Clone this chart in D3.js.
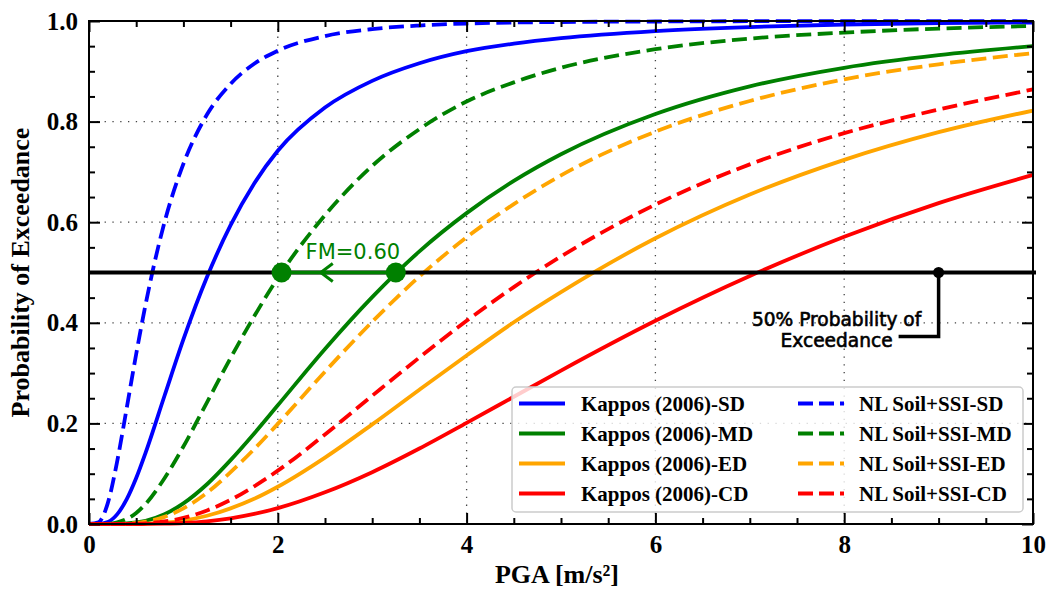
<!DOCTYPE html>
<html>
<head>
<meta charset="utf-8">
<script src="https://cdn.jsdelivr.net/npm/d3@7"></script>
<style>
  body { margin: 0; background: #fff; }
  svg { display: block; }
</style>
</head>
<body>
<svg id="chart"></svg>
<script>
// PGA sample points [m/s²] shared by every curve
const pga = [0, 0.1, 0.2, 0.3, 0.4, 0.5, 0.6, 0.8, 1.0, 1.25, 1.5, 1.75, 2.0, 2.5, 3.0, 3.5, 4.0, 4.5, 5.0, 6.0, 7.0, 8.0, 9.0, 10.0];

// Probability of exceedance
const kapposSD = [0, 0.0001, 0.0041, 0.0196, 0.0495, 0.0915, 0.142, 0.255, 0.367, 0.491, 0.594, 0.677, 0.742, 0.828, 0.881, 0.916, 0.940, 0.955, 0.966, 0.980, 0.988, 0.993, 0.996, 0.997];
const kapposMD = [0, 0, 0, 0.0002, 0.001, 0.003, 0.0064, 0.0194, 0.041, 0.079, 0.127, 0.180, 0.236, 0.348, 0.451, 0.542, 0.618, 0.682, 0.735, 0.815, 0.870, 0.907, 0.932, 0.950];
const kapposED = [0, 0, 0, 0, 0.0001, 0.0003, 0.0007, 0.0026, 0.0069, 0.0164, 0.031, 0.050, 0.074, 0.132, 0.198, 0.267, 0.335, 0.401, 0.461, 0.568, 0.655, 0.724, 0.779, 0.822];
const kapposCD = [0, 0, 0, 0, 0, 0, 0.0001, 0.0007, 0.002, 0.0054, 0.0112, 0.020, 0.0315, 0.063, 0.103, 0.150, 0.201, 0.253, 0.305, 0.404, 0.493, 0.571, 0.638, 0.694];
const nlSD = [0, 0.0033, 0.042, 0.126, 0.231, 0.338, 0.437, 0.600, 0.716, 0.814, 0.875, 0.915, 0.941, 0.970, 0.984, 0.991, 0.995, 0.997, 0.998, 0.999, 0.9996, 0.9998, 0.9999, 0.9999];
const nlMD = [0, 0, 0.0005, 0.0031, 0.010, 0.022, 0.040, 0.091, 0.154, 0.242, 0.330, 0.413, 0.489, 0.614, 0.712, 0.785, 0.840, 0.878, 0.907, 0.944, 0.965, 0.977, 0.985, 0.990];
const nlED = [0, 0, 0, 0.0001, 0.0007, 0.002, 0.0045, 0.0142, 0.031, 0.062, 0.103, 0.149, 0.199, 0.303, 0.402, 0.492, 0.570, 0.636, 0.693, 0.780, 0.841, 0.884, 0.914, 0.936];
const nlCD = [0, 0, 0, 0, 0, 0.0006, 0.0014, 0.005, 0.012, 0.027, 0.048, 0.075, 0.106, 0.178, 0.255, 0.331, 0.404, 0.471, 0.532, 0.635, 0.715, 0.777, 0.824, 0.864];

const kapposLabels = ["Kappos (2006)-SD", "Kappos (2006)-MD", "Kappos (2006)-ED", "Kappos (2006)-CD"];
const nlLabels = ["NL Soil+SSI-SD", "NL Soil+SSI-MD", "NL Soil+SSI-ED", "NL Soil+SSI-CD"];
const stateColors = ["#0000ff", "#008000", "#ffa500", "#ff0000"];

const xTicks = [0, 2, 4, 6, 8, 10];
const yTicks = [0, 0.2, 0.4, 0.6, 0.8, 1.0];

// annotations
const fmFrom = 3.25;   // Kappos MD median
const fmTo = 2.04;     // NL Soil+SSI MD median
const fmText = "FM=0.60";
const halfLevel = 0.5;
const halfMarkerX = 9;
const halfText = ["50% Probability of", "Exceedance"];

const width = 1051;
const height = 595;
const margin = { top: 21, right: 18, bottom: 71, left: 89 };
const innerW = width - margin.left - margin.right;
const innerH = height - margin.top - margin.bottom;

const serif = "'Liberation Serif', 'Times New Roman', Times, serif";
const lineW = 3.8;
const dash = "15,6.5";

const kappos = [kapposSD, kapposMD, kapposED, kapposCD];
const nl = [nlSD, nlMD, nlED, nlCD];
const series = [];
kappos.forEach((vals, i) => series.push({ label: kapposLabels[i], values: vals, color: stateColors[i], dashed: false }));
nl.forEach((vals, i) => series.push({ label: nlLabels[i], values: vals, color: stateColors[i], dashed: true }));

const svg = d3.select("#chart").attr("width", width).attr("height", height);
const g = svg.append("g").attr("transform", `translate(${margin.left},${margin.top})`);

const x = d3.scaleLinear().domain([0, 10]).range([0, innerW]);
const y = d3.scaleLinear().domain([0, 1]).range([innerH, 0]);

// dotted grid
const grid = g.append("g").attr("stroke", "#444").attr("stroke-width", 1.3).attr("stroke-dasharray", "1.3,6.5");
grid.selectAll("line.gx")
  .data(xTicks.filter((d) => d > 0 && d < 10))
  .enter().append("line")
  .attr("x1", (d) => x(d)).attr("x2", (d) => x(d))
  .attr("y1", 0).attr("y2", innerH);
grid.selectAll("line.gy")
  .data(yTicks.filter((d) => d > 0 && d < 1))
  .enter().append("line")
  .attr("y1", (d) => y(d)).attr("y2", (d) => y(d))
  .attr("x1", 0).attr("x2", innerW);

// curves
const line = d3.line()
  .x((d) => x(d[0]))
  .y((d) => y(d[1]))
  .curve(d3.curveMonotoneX);

const plot = g.append("g");
plot.selectAll("path.curve")
  .data(series)
  .enter().append("path")
  .attr("class", "curve")
  .attr("d", (s) => line(pga.map((p, i) => [p, s.values[i]])))
  .attr("fill", "none")
  .attr("stroke", (s) => s.color)
  .attr("stroke-width", lineW)
  .attr("stroke-dasharray", (s) => (s.dashed ? dash : null));

// 50 % line
g.append("line")
  .attr("x1", x(0)).attr("x2", x(10) + 3)
  .attr("y1", y(halfLevel)).attr("y2", y(halfLevel))
  .attr("stroke", "#000").attr("stroke-width", 4);

// FM arrow
const fmColor = stateColors[1];
const fm = g.append("g");
fm.append("line")
  .attr("x1", x(fmFrom)).attr("x2", x(fmTo))
  .attr("y1", y(halfLevel)).attr("y2", y(halfLevel))
  .attr("stroke", fmColor).attr("stroke-width", 3.5);
const tipX = x((fmFrom + fmTo) / 2 - 0.19);
fm.append("path")
  .attr("d", `M${tipX + 12},${y(halfLevel) - 9} L${tipX},${y(halfLevel)} L${tipX + 12},${y(halfLevel) + 9}`)
  .attr("fill", "none").attr("stroke", fmColor).attr("stroke-width", 3);
fm.selectAll("circle")
  .data([fmFrom, fmTo])
  .enter().append("circle")
  .attr("cx", (d) => x(d)).attr("cy", y(halfLevel))
  .attr("r", 10).attr("fill", fmColor);
fm.append("text")
  .attr("x", x(fmTo) + 24).attr("y", y(halfLevel) - 14)
  .attr("font-family", "'DejaVu Sans', sans-serif")
  .attr("font-size", 21)
  .attr("fill", fmColor)
  .text(fmText);

// 50 % probability annotation
const ann = g.append("g");
const elbowY = y(halfLevel) + 64;
ann.append("path")
  .attr("d", `M${x(halfMarkerX)},${y(halfLevel)} L${x(halfMarkerX)},${elbowY} L${x(halfMarkerX) - 40},${elbowY}`)
  .attr("fill", "none").attr("stroke", "#000").attr("stroke-width", 3.5);
ann.append("circle")
  .attr("cx", x(halfMarkerX)).attr("cy", y(halfLevel))
  .attr("r", 5.5).attr("fill", "#000");
ann.selectAll("text")
  .data(halfText)
  .enter().append("text")
  .attr("x", x(halfMarkerX) - 102)
  .attr("y", (d, i) => y(halfLevel) + 53 + i * 21)
  .attr("text-anchor", "middle")
  .attr("font-family", "'DejaVu Sans', sans-serif")
  .attr("font-size", 18.6)
  .attr("fill", "#000")
  .attr("stroke", "#000").attr("stroke-width", 0.6)
  .text((d) => d);

// axes with inward ticks on all sides
const fmtY = d3.format(".1f");
const xMinor = d3.range(0, 10.01, 0.5).filter((v) => v % 2 !== 0);
const yMinor = d3.range(0, 1.001, 0.05).map((v) => +v.toFixed(2)).filter((v) => Math.round(v * 100) % 20 !== 0);

function styleAxis(sel) {
  sel.select(".domain").remove();
  sel.selectAll(".tick line").attr("stroke", "#000").attr("stroke-width", 2);
  sel.selectAll(".tick text")
    .attr("font-family", serif)
    .attr("font-weight", "bold")
    .attr("font-size", 25)
    .attr("fill", "#000");
}

g.append("g").attr("transform", `translate(0,${innerH})`)
  .call(d3.axisBottom(x).tickValues(xTicks).tickFormat(d3.format("d")).tickSize(-11).tickPadding(11))
  .call(styleAxis);
g.append("g").attr("transform", `translate(0,${innerH})`)
  .call(d3.axisBottom(x).tickValues(xMinor).tickFormat("").tickSize(-6))
  .call(styleAxis);
g.append("g")
  .call(d3.axisTop(x).tickValues(xTicks).tickFormat("").tickSize(-11))
  .call(styleAxis);
g.append("g")
  .call(d3.axisTop(x).tickValues(xMinor).tickFormat("").tickSize(-6))
  .call(styleAxis);
g.append("g")
  .call(d3.axisLeft(y).tickValues(yTicks).tickFormat(fmtY).tickSize(-11).tickPadding(11))
  .call(styleAxis);
g.append("g")
  .call(d3.axisLeft(y).tickValues(yMinor).tickFormat("").tickSize(-6))
  .call(styleAxis);
g.append("g").attr("transform", `translate(${innerW},0)`)
  .call(d3.axisRight(y).tickValues(yTicks).tickFormat("").tickSize(-11))
  .call(styleAxis);
g.append("g").attr("transform", `translate(${innerW},0)`)
  .call(d3.axisRight(y).tickValues(yMinor).tickFormat("").tickSize(-6))
  .call(styleAxis);

// frame
g.append("rect")
  .attr("width", innerW).attr("height", innerH)
  .attr("fill", "none").attr("stroke", "#000").attr("stroke-width", 2);

// axis titles
svg.append("text")
  .attr("x", margin.left + innerW / 2 - 4)
  .attr("y", 583)
  .attr("text-anchor", "middle")
  .attr("font-family", serif).attr("font-weight", "bold").attr("font-size", 26)
  .text("PGA [m/s²]");
svg.append("text")
  .attr("transform", `translate(29,${margin.top + innerH / 2}) rotate(-90)`)
  .attr("text-anchor", "middle")
  .attr("font-family", serif).attr("font-weight", "bold").attr("font-size", 26)
  .text("Probability of Exceedance");

// legend (lower right, two columns)
const legend = g.append("g").attr("transform", `translate(${423},${366})`);
legend.append("rect")
  .attr("width", 511).attr("height", 125)
  .attr("rx", 4)
  .attr("fill", "#fff").attr("fill-opacity", 0.8)
  .attr("stroke", "#ccc").attr("stroke-width", 1.5);

const legendItems = legend.selectAll("g.item")
  .data(series)
  .enter().append("g")
  .attr("class", "item")
  .attr("transform", (d, i) => `translate(${i < 4 ? 7 : 286},${16.5 + (i % 4) * 30})`);
legendItems.append("line")
  .attr("x1", 0).attr("x2", 46)
  .attr("stroke", (d) => d.color)
  .attr("stroke-width", lineW)
  .attr("stroke-dasharray", (d) => (d.dashed ? "15,6" : null));
legendItems.append("text")
  .attr("x", (d) => (d.dashed ? 61 : 62))
  .attr("dy", "0.35em")
  .attr("font-family", serif).attr("font-weight", "bold").attr("font-size", 21)
  .attr("fill", "#000")
  .text((d) => d.label);
</script>
</body>
</html>
